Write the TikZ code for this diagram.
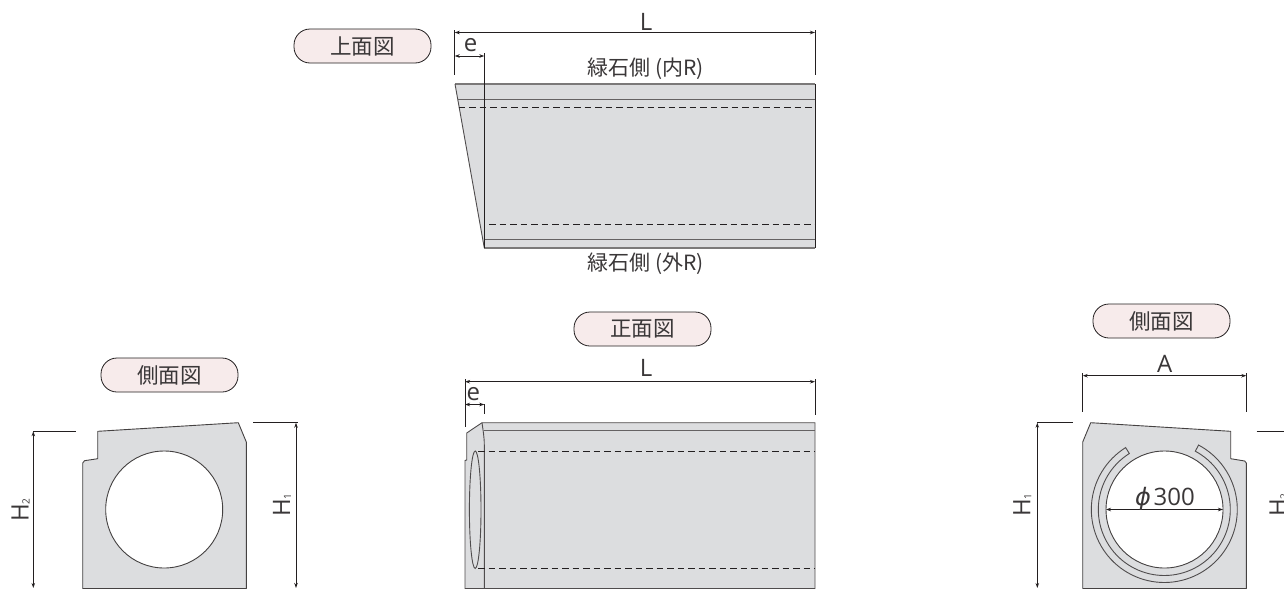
\documentclass[tikz,border=0pt]{standalone}
\usepackage{fontspec}
\setmainfont{Open Sans}
\newfontfamily\cjk{Noto Sans CJK JP}
\newfontfamily\phif{DejaVu Sans}
\usetikzlibrary{arrows.meta}
\definecolor{body}{HTML}{DCDDDF}
\definecolor{pill}{HTML}{F7EBEB}
\definecolor{ink}{HTML}{231F20}
\definecolor{txt}{HTML}{3A3738}
\tikzset{
  x=1pt,y=-1pt,
  dim/.style={draw=ink,line width=0.8pt,{Stealth[length=5pt,width=3.5pt,fill=ink!70]}-{Stealth[length=5pt,width=3.5pt,fill=ink!70]}},
  tick/.style={draw=ink,line width=0.8pt},
  outl/.style={draw=ink!85,line width=0.9pt,fill=body,line join=round},
  thin/.style={draw=ink!80,line width=0.9pt},
  dashline/.style={draw=ink,line width=0.8pt,dash pattern=on 6.5pt off 4pt},
  pillbox/.style={draw=ink,line width=0.8pt,fill=pill,rounded corners=16pt,minimum width=137pt,minimum height=34pt,inner sep=0pt,text=txt,font=\cjk\fontsize{21.5}{22}\selectfont},
  lab/.style={text=txt,inner sep=0pt,anchor=base,font=\fontsize{24}{24}\selectfont},
  cj/.style={text=txt,inner sep=0pt,font=\cjk\fontsize{21}{22}\selectfont},
  hlab/.style={text=txt,inner sep=0pt,rotate=90,font=\fontsize{24}{24}\selectfont},
}
\newcommand{\hsub}[1]{H{\fontsize{10}{10}\selectfont\raisebox{-1pt}{#1}}}
\begin{document}
\begin{tikzpicture}
\useasboundingbox (0,0) rectangle (1284,589);
\clip (0,0) rectangle (1284,589);
% pills
\node[pillbox] (pTop) at (362.5,46) {上面図};
\node[pillbox] (pFront) at (642.5,329) {正面図};
\node[pillbox] (pLeft) at (169.5,375) {側面図};
\node[pillbox] (pRight) at (1161.5,321) {側面図};
% top view
\fill[body] (455,84) -- (815,84) -- (815,248) -- (484.3,248) -- cycle;
\draw[draw=ink!60,line width=1.3pt] (455,84) -- (815,84);
\draw[draw=ink!60,line width=1.3pt] (484.3,248) -- (815,248);
\draw[thin] (455,84) -- (484.3,248);
\draw[thin,draw=ink!70] (458,99.5) -- (815,99.5);
\draw[thin,draw=ink!70] (484.3,239.5) -- (815,239.5);
\draw[dashline] (458.5,107.5) -- (815,107.5);
\draw[dashline] (489,224) -- (815,224);
\draw[tick] (815,84) -- (815,248);
\draw[tick,line width=1pt] (484.3,53) -- (484.3,248);
\draw[tick] (454.7,30) -- (454.7,75);
\draw[tick] (815,30) -- (815,75);
\draw[dim] (454.7,32.5) -- (815,32.5);
\draw[dim] (454.7,56) -- (484.3,56);
\node[lab] (tL) at (646,30) {L};
\node[lab] (te) at (470.7,51.7) {e};
\node[cj] (tIn) at (645.5,69) {緑石側\hspace{5pt}(内R)};
\node[cj] (tOut) at (645.5,264) {緑石側\hspace{5pt}(外R)};
% left side view
\draw[outl,even odd rule] (97.7,431.3) -- (238.3,422.7) -- (246.3,442) -- (246.3,588.5) -- (82.7,588.5) -- (82.7,463) -- (84.5,460.7) -- (97.7,458.7) -- cycle (164.2,509.5) circle[radius=58.5pt];
\draw[tick] (33,431.3) -- (76,431.3);
\draw[tick] (253,422.7) -- (298,422.7);
\draw[dim] (33.3,431.3) -- (33.3,588);
\draw[dim] (296,422.7) -- (296,588);
\node[hlab] (lH2) at (20.5,510) {\hsub{2}};
\node[hlab] (lH1) at (282,505) {\hsub{1}};
% front view
\draw[outl,draw=none] (482,422.7) -- (815,422.7) -- (815,588.5) -- (465,588.5) -- (465,460.5) -- (466.7,460) -- (466.7,433) -- cycle;
\draw[thin] (815,422.7) -- (482,422.7) -- (466.7,433) -- (466.7,460) -- (465,460.5) -- (465,588.5) -- (815,588.5) -- cycle;
\draw[thin,draw=ink!70] (484,430.5) -- (815,430.5);
\draw[thin] (482,422.7) .. controls (483,430) and (484.3,437) .. (484.3,445) -- (484.3,588.5);
\draw[dashline] (478,451) -- (815,451);
\draw[dashline] (478,568) -- (815,568);
\draw[thin,fill=body] (475.2,509.7) ellipse[x radius=5.8pt,y radius=58.7pt];
\draw[tick] (465,379) -- (465,427);
\draw[tick] (815,379) -- (815,415);
\draw[tick] (484.3,404) -- (484.3,414);
\draw[dim] (465,381.7) -- (815,381.7);
\draw[dim] (465,404.5) -- (484.3,404.5);
\node[lab] (fL) at (646,376) {L};
\node[lab] (fe) at (473.3,400) {e};
% right side view
\draw[outl,even odd rule] (1090.7,422.7) -- (1230.7,431.3) -- (1230.7,458.7) -- (1244.7,461) -- (1246.3,463) -- (1246.3,588.5) -- (1082.7,588.5) -- (1082.7,442) -- cycle (1164.5,509.5) circle[radius=58.5pt];
\draw[thin] plot[domain=62:-238,samples=90,smooth] ({1164.3+73*cos(\x)},{509.5-73*sin(\x)}) -- plot[domain=-238:62,samples=90,smooth] ({1164.3+66*cos(\x)},{509.5-66*sin(\x)}) -- cycle;
\draw[dim] (1106,509.5) -- (1223,509.5);
\draw[tick] (1037,422.7) -- (1073,422.7);
\draw[tick] (1256.7,431.3) -- (1284,431.3);
\draw[dim] (1037.3,422.7) -- (1037.3,588);
\draw[tick] (1082.7,373) -- (1082.7,411.7);
\draw[tick] (1246.3,373) -- (1246.3,411.7);
\draw[dim] (1082.7,375.7) -- (1246.3,375.7);
\node[lab] (rA) at (1164.7,372) {A};
\node[lab,anchor=base west] (rD) at (1135,505) {{\phif\itshape ϕ}\hspace{2.5pt}300};
\node[hlab] (rH1) at (1022.3,505) {\hsub{1}};
\node[hlab] (rH2) at (1278.5,505) {\hsub{2}};
\end{tikzpicture}
\end{document}
